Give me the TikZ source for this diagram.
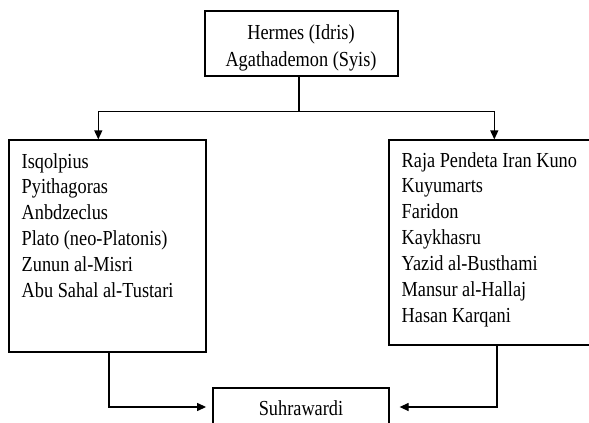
\documentclass[tikz,border=0pt]{standalone}
\usepackage{fontspec}
\setmainfont{Liberation Serif}
\usepackage{graphicx}
\usetikzlibrary{arrows.meta,fit}
\newcommand{\vstretchtab}[2]{\scalebox{1}[1.17]{\begin{tabular}[t]{@{}#1@{}}#2\end{tabular}}}
\begin{document}
\begin{tikzpicture}[x=1pt,y=-1pt,
  boxstyle/.style={draw=black, line width=1.25pt, inner sep=0pt},
  txt/.style={inner sep=0pt, font=\fontsize{18.3}{22.2}\selectfont, text=black},
  conn/.style={draw=black, line width=1.25pt},
  arr/.style={conn, -{Triangle[length=9pt,width=8pt]}}]
\useasboundingbox (0,0) rectangle (589,423);
\clip (0,0) rectangle (589,423);
\fill[white] (0,0) rectangle (589,423);

% boxes
\node[boxstyle, fit={(205,11) (398,76)}] (top) {};
\node[boxstyle, fit={(9,140) (206,352)}] (lbox) {};
\node[boxstyle, fit={(389,140) (605,345)}] (rbox) {};
\node[boxstyle, fit={(213,388) (389,426)}] (sbox) {};

% texts
\node[txt, font=\fontsize{18.3}{23.1}\selectfont, anchor=base] (toptext) at (301,39)
  {\vstretchtab{c}{Hermes (Idris)\\Agathademon (Syis)}};
\node[txt, anchor=base west] (ltext) at (21.5,168)
  {\vstretchtab{l}{Isqolpius\\Pyithagoras\\Anbdzeclus\\Plato (neo-Platonis)\\Zunun al-Misri\\Abu Sahal al-Tustari}};
\node[txt, anchor=base west] (rtext) at (401.5,167)
  {\vstretchtab{l}{Raja Pendeta Iran Kuno\\Kuyumarts\\Faridon\\Kaykhasru\\Yazid al-Busthami\\Mansur al-Hallaj\\Hasan Karqani}};
\node[txt, anchor=base] (stext) at (301,415) {\scalebox{1}[1.17]{Suhrawardi}};

% connectors
\draw[conn] ([xshift=-2.5pt]top.south) -- ++(0,35) coordinate (split);
\draw[arr] (split) -| ([xshift=-9.2pt]lbox.north);
\draw[arr] (split) -| ([xshift=-2.7pt]rbox.north);
\draw[arr, shorten >=6.3pt] ([xshift=1.5pt]lbox.south) |- (sbox.west);
\draw[arr, shorten >=10pt] (rbox.south) |- (sbox.east);
\end{tikzpicture}
\end{document}
